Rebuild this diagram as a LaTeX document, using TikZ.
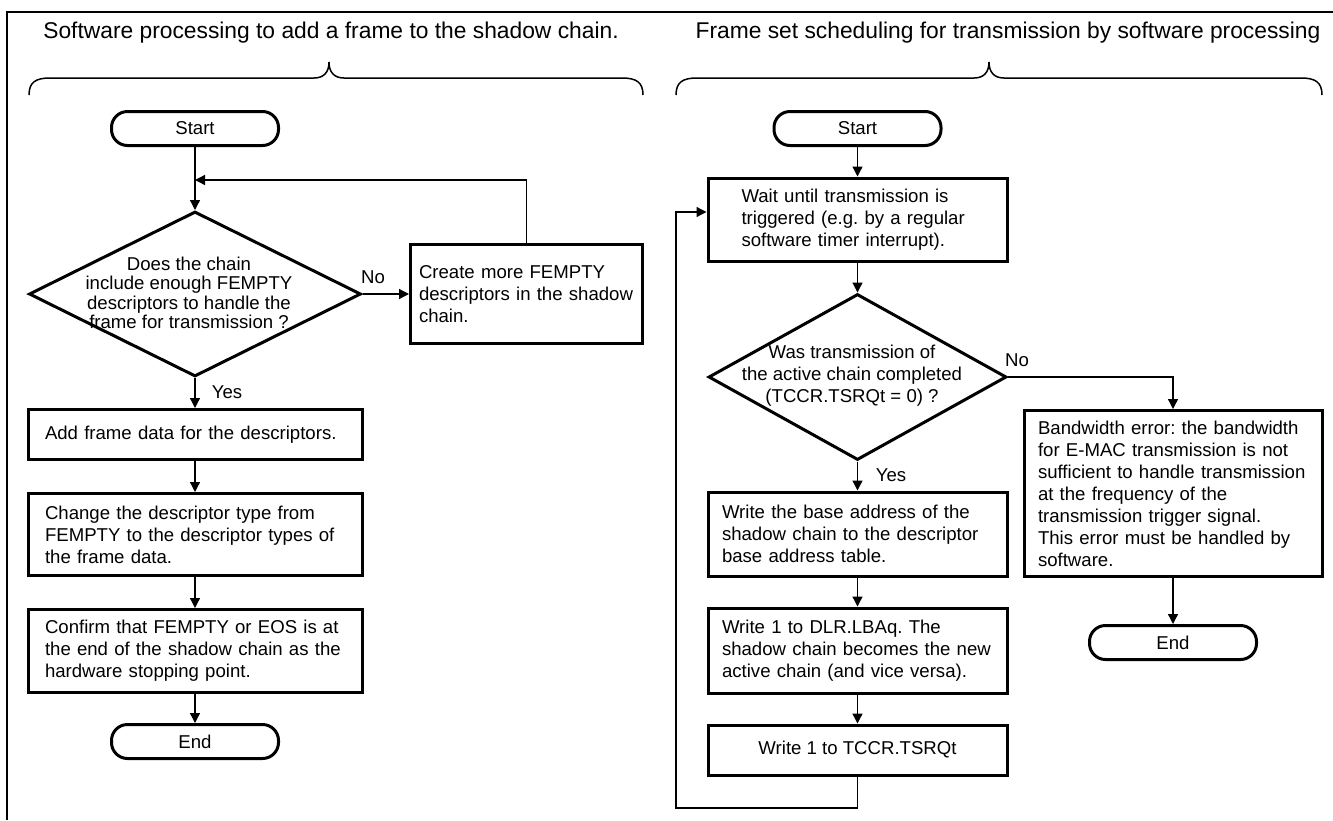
\documentclass[tikz,border=0pt]{standalone}
\usepackage{fontspec}
\setmainfont{Liberation Sans}
\usetikzlibrary{shapes.geometric,arrows.meta}
\frenchspacing
\begin{document}
\begin{tikzpicture}[x=1pt,y=-1pt,
  every node/.style={font=\fontsize{18.6}{22}\selectfont},
  box/.style={draw,line width=3pt,rectangle,inner ysep=0pt,align=left},
  term/.style={draw,line width=3pt,rectangle,rounded corners=16pt,minimum width=167pt,minimum height=34pt,inner sep=0pt},
  decision/.style={draw,line width=3pt,diamond,inner sep=0pt},
  conn/.style={line width=1.3pt,-{Triangle[length=10pt,width=10pt]}},
  plain/.style={line width=1.3pt},
  lbl/.style={inner sep=0pt},
  titletext/.style={font=\fontsize{22.8}{26}\selectfont,inner sep=0pt},
  bracepath/.style={line width=1.5pt},
  framepath/.style={line width=2.8pt}
]
\useasboundingbox (0,0) rectangle (1333,820);

% frame and titles
\draw[framepath] (7,820) -- (7,12) -- (1333,12);
\node[titletext] (t1) at (331,33) {Software processing to add a frame to the shadow chain.};
\node[titletext] (t2) at (1008,33) {Frame set scheduling for transmission by software processing};
\draw[bracepath] (29,95) .. controls (29,82) and (36,78) .. (50,78) -- (314,78) .. controls (324,78) and (329,72) .. (329,62) .. controls (329,72) and (334,78) .. (344,78) -- (622,78) .. controls (636,78) and (643,82) .. (643,95);
\draw[bracepath] (676,95) .. controls (676,82) and (683,78) .. (697,78) -- (974,78) .. controls (984,78) and (989,72) .. (989,62) .. controls (989,72) and (994,78) .. (1004,78) -- (1301,78) .. controls (1315,78) and (1322,82) .. (1322,95);

% left flow
\node[term] (s1) at (195,128.5) {Start};
\node[decision, minimum width=332pt, minimum height=165pt] (d1) at (195,294) {};
\node[lbl, align=center, font=\fontsize{18.6}{19.5}\selectfont] (d1t) at (189,293) {Does the chain\\include enough FEMPTY\\descriptors to handle the\\frame for transmission ?};
\node[box, text width=215pt, inner xsep=8.5pt, minimum height=99pt] (c1) at (526.5,294) {Create more FEMPTY\\descriptors in the shadow\\chain.};
\node[box, text width=300pt, inner xsep=17pt, minimum height=50pt] (a1) at (195,434.5) {Add frame data for the descriptors.};
\node[box, text width=300pt, inner xsep=17pt, minimum height=82pt] (ch) at (195,534.5) {Change the descriptor type from\\FEMPTY to the descriptor types of\\the frame data.};
\node[box, text width=300pt, inner xsep=17pt, minimum height=83pt] (cf) at (195,651) {Confirm that FEMPTY or EOS is at\\the end of the shadow chain as the\\hardware stopping point.};
\node[term] (e1) at (195,741.5) {End};
\node[lbl] (no1) at (373,277) {No};
\node[lbl] (yes1) at (227,392) {Yes};

\coordinate (j1) at (195,180);
\draw[plain] (s1) -- (j1);
\draw[conn] (j1) -- (d1.north);
\draw[conn] (c1.north) |- (j1);
\draw[conn] (d1.east) -- (c1.west);
\draw[conn] (d1.south) -- (a1.north);
\draw[conn] (a1) -- (ch);
\draw[conn] (ch) -- (cf);
\draw[conn] (cf) -- (e1);

% right flow
\node[term] (s2) at (857.5,128.5) {Start};
\node[box, text width=232pt, inner xsep=0pt, minimum width=299pt, minimum height=83pt] (wt) at (857.5,219.5) {Wait until transmission is\\triggered (e.g. by a regular\\software timer interrupt).};
\node[decision, minimum width=298pt, minimum height=166pt] (d2) at (857.5,377) {};
\node[lbl, align=center] (d2t) at (852,376) {Was transmission of\\the active chain completed\\(TCCR.TSRQt = 0) ?};
\node[box, text width=271pt, inner xsep=14pt, minimum height=84pt] (wb) at (857.5,534) {Write the base address of the\\shadow chain to the descriptor\\base address table.};
\node[box, text width=271pt, inner xsep=14pt, minimum height=85pt] (dl) at (857.5,650.5) {Write 1 to DLR.LBAq. The\\shadow chain becomes the new\\active chain (and vice versa).};
\node[box, align=center, minimum width=299pt, minimum height=50pt, inner xsep=0pt] (tc) at (857.5,750) {Write 1 to TCCR.TSRQt};
\node[box, text width=270pt, inner xsep=14pt, minimum height=166pt] (bw) at (1173,493.5) {Bandwidth error: the bandwidth\\for E-MAC transmission is not\\sufficient to handle transmission\\at the frequency of the\\transmission trigger signal.\\This error must be handled by\\software.};
\node[term] (e2) at (1173,642.5) {End};
\node[lbl] (no2) at (1017,360) {No};
\node[lbl] (yes2) at (891,475) {Yes};

\draw[conn] (s2) -- (wt);
\draw[conn] (wt) -- (d2.north);
\draw[conn] (d2.east) -| (bw.north);
\draw[conn] (d2.south) -- (wb.north);
\draw[conn] (wb) -- (dl);
\draw[conn] (dl) -- (tc);
\draw[conn] (bw) -- (e2);
\coordinate (l1) at (857.5,808);
\coordinate (l2) at (676,808);
\coordinate (l3) at (676,212);
\draw[conn] (tc.south) -- (l1) -- (l2) -- (l3) -- (wt.west |- l3);
\end{tikzpicture}
\end{document}
